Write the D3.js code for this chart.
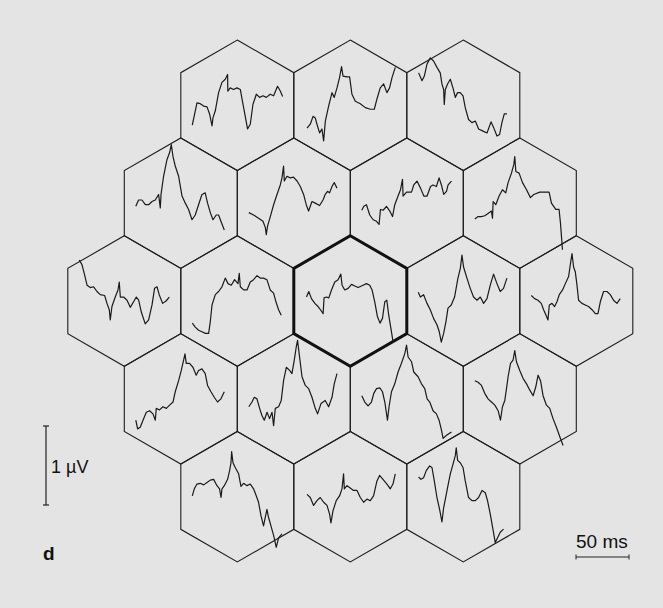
<!DOCTYPE html>
<html><head><meta charset="utf-8">
<script src="https://cdn.jsdelivr.net/npm/d3@7"></script>
<style>
html,body{margin:0;padding:0;background:#e4e4e4;}
svg{display:block;}
text{font-family:"Liberation Sans",Arial,Helvetica,sans-serif;fill:#111;}
</style></head>
<body>
<svg id="chart" width="663" height="608"></svg>
<script>
// hexagon layout: number of hexes in each row (top to bottom)
const rowCounts = [3, 4, 5, 4, 3];
const centerHexIndex = 9;

// traces: [time in ms, amplitude in µV] relative to each hexagon's centre
const tA1 = [[0,-0.25],[4.4,0.03],[7.5,0.02],[10.7,-0.01],[13.9,-0.02],[16.3,-0.11],[18.6,-0.26],[19.5,-0.16],[21.7,-0.07],[24.8,0.16],[28,0.29],[31.1,0.33],[33.3,0.39],[33.5,0.18],[35.8,0.22],[38.9,0.20],[42.1,0.22],[45.3,0.20],[46.9,0.08],[49,-0.07],[52.1,-0.30],[54.7,-0.24],[57.2,0.01],[60.4,0.14],[63.5,0.10],[66.7,0.12],[69.8,0.10],[73.5,0.14],[76.7,0.12],[80.4,0.24],[83,0.18],[85.2,0.11]];
const tA2 = [[1.6,-0.29],[4.7,-0.24],[7.3,-0.14],[9.4,-0.16],[11,-0.24],[13.5,-0.35],[15.7,-0.30],[17.3,-0.45],[18.9,-0.20],[22,-0.01],[25.2,0.16],[27.3,0.10],[29.9,0.22],[32.3,0.35],[34.2,0.49],[35.6,0.37],[39.3,0.36],[41.8,0.36],[44,0.14],[47.2,0.05],[51.9,0.02],[56.6,-0.03],[61.3,-0.05],[65.1,-0.05],[67.6,0.08],[70.7,0.22],[73.9,0.27],[77,0.16],[79.5,0.22],[81.8,0.35],[84.9,0.48]];
const tA3 = [[0.3,0.41],[3.5,0.31],[5.7,0.37],[8.2,0.52],[11.3,0.60],[14.4,0.56],[17.6,0.48],[20.7,0.41],[22.3,0.27],[23.9,0.20],[24.5,0.01],[25.5,0.20],[27.6,0.27],[30.2,0.33],[32.7,0.22],[34.9,0.10],[37.1,0.16],[39.6,0.16],[42.2,0.12],[44.3,-0.03],[47.4,-0.18],[50.6,-0.22],[53.8,-0.20],[56.9,-0.30],[61.6,-0.33],[64.8,-0.35],[68.6,-0.21],[71,-0.28],[74.2,-0.39],[76.7,-0.37],[78.9,-0.22],[81.1,-0.11],[83.6,-0.11]];
const tB1 = [[0,-0.04],[2.6,0.04],[5.8,0.04],[9,-0.02],[12.1,-0.02],[15.3,0.02],[18.4,0.04],[21.5,0.11],[23.1,-0.06],[23.8,0.11],[26.2,0.34],[29.4,0.55],[31.9,0.64],[33.5,0.74],[35.1,0.59],[37.2,0.47],[40.4,0.34],[43.6,0.09],[46.7,0.00],[49.8,-0.08],[53,-0.21],[56.1,-0.15],[59.2,-0.02],[62.4,0.11],[65.5,0.13],[67.7,0.00],[70.3,-0.12],[72.8,-0.21],[75.9,-0.15],[78.1,-0.15],[80.3,-0.23],[83.5,-0.34]];
const tB2 = [[0,-0.12],[4.5,-0.15],[9.2,-0.19],[13.4,-0.23],[15.6,-0.31],[16.5,-0.40],[17.7,-0.29],[20.3,-0.17],[23.4,-0.02],[26.6,0.11],[29.7,0.23],[31.3,0.32],[32.8,0.47],[33.5,0.28],[36,0.34],[39.1,0.32],[42.2,0.33],[45.5,0.28],[48.6,0.21],[51.7,0.11],[54.2,-0.02],[56.4,-0.10],[59.6,0.02],[62.7,0.00],[66.8,-0.03],[70,0.04],[72.1,0.11],[74.3,0.15],[76.2,0.13],[78.5,0.21],[80.6,0.26],[83.2,0.19]];
const tB3 = [[0,-0.09],[1.9,-0.04],[4.4,-0.02],[7.5,-0.15],[10.7,-0.21],[13.9,-0.23],[16.3,-0.27],[17.6,-0.08],[20.1,-0.09],[23.3,-0.04],[26.4,-0.10],[29,-0.17],[31.1,-0.02],[34.2,0.09],[36.5,0.17],[38.4,0.30],[38.9,0.09],[42.2,0.14],[46.9,0.14],[49,0.23],[52.1,0.28],[55.4,0.19],[58.5,0.09],[61.6,0.09],[64.8,0.21],[67.2,0.23],[70.4,0.21],[72.9,0.32],[75.1,0.23],[77.3,0.11],[79.9,0.15],[81.4,0.23],[84.6,0.28]];
const tB4 = [[0,-0.20],[3.1,-0.17],[6.3,-0.17],[9.4,-0.16],[12.5,-0.13],[15.7,-0.10],[16.7,-0.19],[17.3,0.02],[19.8,-0.02],[22.9,0.09],[26.1,0.17],[29.2,0.13],[31.4,0.26],[34.6,0.38],[36.8,0.49],[37.7,0.59],[38.7,0.40],[41.8,0.38],[45,0.26],[48.8,0.17],[52.5,0.07],[55.6,0.11],[61.3,0.14],[67,0.14],[70.1,0.14],[72.3,0.00],[76.4,-0.08],[79.5,-0.08],[80.8,-0.25],[82.7,-0.59]];
const tC1 = [[0,0.52],[2.5,0.46],[5,0.33],[7.3,0.20],[10.4,0.17],[13.5,0.18],[16.7,0.12],[19.8,0.08],[23.9,0.07],[26.1,-0.03],[28.3,-0.11],[29.2,-0.24],[30.8,-0.07],[33.9,0.05],[36.5,0.14],[37.7,0.24],[38.7,0.05],[41.8,0.05],[45,0.01],[48.1,-0.08],[51.2,-0.01],[53.8,0.05],[56,0.01],[58.5,-0.14],[62.2,-0.29],[65.4,-0.24],[68.6,-0.05],[71,0.16],[73.3,0.18],[75.4,0.08],[78.6,-0.03],[81.8,0.00],[84.9,0.05]];
const tC2 = [[0,-0.28],[2.8,-0.33],[5.9,-0.37],[9.1,-0.39],[12.3,-0.41],[15.4,-0.41],[17,-0.26],[18.6,-0.05],[21.7,0.08],[24.8,0.12],[28,0.18],[31.1,0.29],[33.7,0.22],[36.8,0.20],[39.9,0.27],[43.1,0.22],[44.3,0.35],[45.3,0.18],[48.4,0.14],[51.6,0.14],[54.7,0.24],[57.8,0.27],[61,0.32],[64.1,0.29],[67.2,0.29],[70.4,0.27],[73.5,0.14],[76.7,0.10],[78.9,-0.01],[81.4,-0.11],[83.9,-0.18]];
const tC3 = [[1.1,0.05],[3.3,0.12],[5.8,0.03],[9,-0.03],[12.1,-0.07],[15.3,-0.13],[16.8,-0.16],[17.7,0.04],[20,0.05],[22.2,0.04],[24.7,0.14],[27.8,0.24],[30.9,0.27],[33.5,0.34],[34.7,0.20],[37.2,0.14],[40.4,0.16],[43.6,0.21],[46.7,0.19],[49.8,0.17],[54.5,0.20],[57.7,0.22],[60.8,0.20],[63,0.14],[65.5,-0.01],[68.1,-0.20],[70.5,-0.28],[72.8,-0.22],[75,-0.01],[76.9,0.01],[78.7,-0.18],[81.3,-0.39],[82.8,-0.52]];
const tC4 = [[0,0.11],[1.9,0.05],[5,0.08],[8.2,-0.03],[11.3,-0.11],[14.4,-0.22],[17.6,-0.30],[19.8,-0.39],[21.7,-0.52],[23.9,-0.41],[26.1,-0.26],[28,-0.09],[31.1,-0.05],[34.2,0.05],[37.4,0.29],[39.6,0.41],[41.2,0.58],[42.7,0.43],[45.9,0.29],[49,0.16],[52.1,0.05],[55.4,0.01],[58.5,0.05],[61.6,-0.03],[64.8,0.03],[67.9,0.20],[71,0.34],[74.2,0.22],[77.3,0.12],[80.4,0.16],[83.6,0.29]];
const tC5 = [[0,0.07],[3.1,0.03],[6.3,0.01],[9.4,-0.03],[11.6,-0.11],[13.9,-0.18],[15.7,-0.24],[17,-0.05],[19.5,-0.03],[22,-0.07],[24.2,-0.01],[26.4,0.08],[29.5,0.14],[32.1,0.22],[35.2,0.31],[36.8,0.46],[38.4,0.60],[39.9,0.43],[41.5,0.37],[43.1,0.20],[44.6,0.01],[47.8,-0.03],[50.9,-0.05],[54,-0.07],[57.3,-0.11],[60.4,-0.16],[62.9,-0.16],[65.1,-0.01],[68.2,0.12],[71.4,0.12],[74.5,0.08],[77.6,0.01],[80.8,-0.03],[83.9,0.03]];
const tD1 = [[0,-0.27],[1.7,-0.38],[4.2,-0.36],[6.8,-0.27],[9.9,-0.17],[13,-0.15],[16.2,-0.19],[18.4,-0.27],[19.3,-0.12],[22.4,-0.14],[25.6,-0.10],[28.8,-0.12],[31.9,-0.08],[35.1,-0.04],[37.2,0.09],[40.4,0.23],[42.9,0.36],[45.1,0.49],[46.4,0.57],[47.6,0.45],[50.7,0.45],[53.9,0.40],[57,0.30],[59.2,0.36],[62.4,0.38],[65.5,0.32],[67.7,0.17],[70.9,0.09],[74,0.02],[77.1,-0.04],[80.3,0.00],[83.5,0.09]];
const tD2 = [[0,-0.10],[3,-0.04],[5.2,0.02],[7.7,0.00],[10.2,-0.12],[12.4,-0.21],[14.6,-0.27],[17.2,-0.17],[19.6,-0.25],[21.9,-0.17],[23.4,-0.34],[25,-0.12],[28.1,-0.10],[30.6,-0.02],[32.8,0.23],[35.4,0.40],[38.5,0.36],[40.7,0.32],[42.9,0.49],[44.8,0.66],[46,0.74],[47.9,0.53],[50.2,0.28],[53.3,0.17],[56.4,0.13],[59.6,0.02],[62.7,-0.12],[64.9,-0.19],[68.1,-0.06],[72.1,-0.02],[75.3,-0.10],[78.5,0.02],[80.6,0.19],[83.2,0.32]];
const tD3 = [[0,0.04],[2.8,-0.04],[5.9,-0.09],[9.1,-0.04],[11.3,0.07],[13.9,0.13],[17,0.14],[19.5,0.09],[21.7,-0.04],[24.2,-0.27],[25.7,-0.10],[28,0.09],[31.1,0.19],[34.2,0.34],[37.4,0.45],[40.5,0.57],[42.2,0.68],[43.7,0.53],[46.9,0.47],[49,0.34],[53.1,0.28],[56.3,0.19],[59.4,0.13],[61.6,0.00],[64.1,-0.04],[67.2,-0.15],[70.4,-0.19],[72.9,-0.27],[75.2,-0.40],[76.7,-0.50],[79.9,-0.46],[84.6,-0.42]];
const tD4 = [[0,0.23],[3.1,0.21],[6.3,0.17],[9.4,0.07],[12.5,0.00],[15.7,-0.04],[18.9,-0.08],[22,-0.15],[24.2,-0.27],[26.1,-0.10],[28.3,-0.02],[29.9,0.13],[31.4,0.28],[33.7,0.45],[36.1,0.49],[37.7,0.61],[39.3,0.47],[42.4,0.36],[45.5,0.26],[48.8,0.19],[51.9,0.11],[55,0.04],[57.5,0.15],[59.7,0.30],[62,0.23],[64.4,0.04],[67.6,-0.08],[70.7,-0.12],[73.8,-0.25],[77,-0.36],[80.2,-0.48],[83.3,-0.59]];
const tE1 = [[0,0.01],[1.9,0.10],[4.4,0.16],[7.5,0.17],[10.7,0.15],[13.9,0.18],[17,0.21],[20.1,0.22],[23.3,0.14],[25.7,0.10],[27.1,-0.01],[28,0.10],[30.2,0.14],[33.3,0.22],[35.2,0.33],[36.5,0.43],[37.1,0.57],[38.4,0.43],[40.5,0.37],[43.7,0.29],[45.9,0.13],[48.4,0.17],[51.6,0.14],[54.7,0.16],[57.8,0.10],[60.4,0.01],[62.5,-0.07],[64.8,-0.24],[67.2,-0.37],[70.4,-0.16],[71.9,-0.26],[74.2,-0.37],[76.7,-0.49],[79.2,-0.64],[81.4,-0.52],[84.6,-0.47]];
const tE2 = [[1.6,0.03],[4.7,-0.01],[7.8,-0.11],[11,-0.05],[14.1,-0.01],[17.3,-0.07],[20.5,-0.11],[22.9,-0.22],[24.2,-0.33],[26.1,-0.18],[29.2,-0.05],[32.3,0.01],[34.6,0.10],[36.1,0.29],[36.8,0.10],[39.3,0.14],[42.4,0.11],[45.5,0.08],[48.8,0.08],[51.9,-0.01],[55,-0.07],[58.2,-0.03],[61.3,-0.05],[64.4,0.01],[67.6,0.20],[70.1,0.27],[73.3,0.22],[77,0.16],[80.2,0.10],[82.7,0.16],[84.9,0.29]];
const tE3 = [[0.3,0.25],[2.5,0.22],[5,0.24],[7.5,0.33],[10.7,0.39],[12.9,0.37],[15.1,0.20],[17.6,-0.01],[20.1,-0.16],[22.3,-0.32],[23.9,-0.14],[27.1,0.08],[30.2,0.29],[32.7,0.41],[34.9,0.52],[35.8,0.62],[37.1,0.46],[39.6,0.43],[42.2,0.37],[44.3,0.20],[47.4,-0.01],[50.6,-0.05],[53.8,-0.05],[56.9,-0.01],[60.1,0.08],[63.2,0.05],[65.3,-0.05],[67.9,-0.22],[70.4,-0.41],[72.6,-0.58],[74.8,-0.52],[77.3,-0.45],[80.4,-0.41]];
const traces = [tA1, tA2, tA3, tB1, tB2, tB3, tB4, tC1, tC2, tC3, tC4, tC5, tD1, tD2, tD3, tD4, tE1, tE2, tE3];

// scale bar values and labels
const scaleBarAmplitude = 1;      // µV
const scaleBarTime = 50;          // ms
const scaleBarLabels = ["1 µV", "50 ms"];
const panelLabel = "d";
const traceDuration = [0, 85];    // ms

const svg = d3.select("#chart");
svg.append("rect").attr("width", 663).attr("height", 608).attr("fill", "#e4e4e4");

const hexW = 113, R = hexW / Math.sqrt(3);
const cX = 350.3, cY = 301;
const rowGap = 1.5 * R;

// build hex centres
const hexes = [];
rowCounts.forEach((n, r) => {
  for (let c = 0; c < n; c++) {
    hexes.push({ x: cX + (c - (n - 1) / 2) * hexW, y: cY + (r - 2) * rowGap });
  }
});

// scales: time -> px, amplitude -> px (relative offsets)
const pxPerMs = 53 / 50;
const tScale = d3.scaleLinear().domain(traceDuration).range([-45, -45 + 85 * pxPerMs]);
const vScale = d3.scaleLinear().domain([-1, 1]).range([79, -79]);

const hexPts = d3.range(6).map(i => {
  const a = Math.PI / 180 * (60 * i - 90);
  return [R * Math.cos(a), R * Math.sin(a)];
});
const hexPath = d3.line().curve(d3.curveLinearClosed);

const gHex = svg.append("g");
hexes.forEach((h, i) => {
  if (i === centerHexIndex) return;
  gHex.append("path")
    .attr("d", hexPath(hexPts.map(p => [h.x + p[0], h.y + p[1]])))
    .attr("fill", "none").attr("stroke", "#1e1e1e").attr("stroke-width", 1.1);
});
const ch = hexes[centerHexIndex];
gHex.append("path")
  .attr("d", hexPath(hexPts.map(p => [ch.x + p[0], ch.y + p[1]])))
  .attr("fill", "none").attr("stroke", "#111").attr("stroke-width", 3)
  .attr("stroke-linejoin", "miter");

// traces
const gTr = svg.append("g");
traces.forEach((tr, i) => {
  const h = hexes[i];
  const line = d3.line().x(d => h.x + tScale(d[0])).y(d => h.y + vScale(d[1]));
  gTr.append("path").attr("d", line(tr))
    .attr("fill", "none").attr("stroke", "#1a1a1a").attr("stroke-width", 1.2)
    .attr("stroke-linejoin", "round");
});

// vertical scale bar (1 µV)
const vbX = 46, vbTop = 426;
const vbLen = vScale(0) - vScale(scaleBarAmplitude);
const gs = svg.append("g").attr("stroke", "#222").attr("stroke-width", 1.2);
gs.append("line").attr("x1", vbX).attr("x2", vbX).attr("y1", vbTop).attr("y2", vbTop + vbLen);
gs.append("line").attr("x1", vbX - 3).attr("x2", vbX + 3).attr("y1", vbTop).attr("y2", vbTop);
gs.append("line").attr("x1", vbX - 3).attr("x2", vbX + 3).attr("y1", vbTop + vbLen).attr("y2", vbTop + vbLen);
svg.append("text").attr("x", 51).attr("y", 473)
  .attr("font-size", 18).text(scaleBarLabels[0]);

// horizontal scale bar (50 ms)
const hbX = 576, hbY = 557;
const hbLen = tScale(scaleBarTime) - tScale(0);
gs.append("line").attr("x1", hbX).attr("x2", hbX + hbLen).attr("y1", hbY).attr("y2", hbY).attr("stroke-width", 1);
gs.append("line").attr("x1", hbX).attr("x2", hbX).attr("y1", hbY - 2.5).attr("y2", hbY + 2.5).attr("stroke-width", 1);
gs.append("line").attr("x1", hbX + hbLen).attr("x2", hbX + hbLen).attr("y1", hbY - 2.5).attr("y2", hbY + 2.5).attr("stroke-width", 1);
svg.append("text").attr("x", hbX).attr("y", 548)
  .attr("font-size", 19).text(scaleBarLabels[1]);

// panel label
svg.append("text").attr("x", 43).attr("y", 560)
  .attr("font-size", 19).attr("font-weight", "bold").text(panelLabel);
</script>
</body></html>
